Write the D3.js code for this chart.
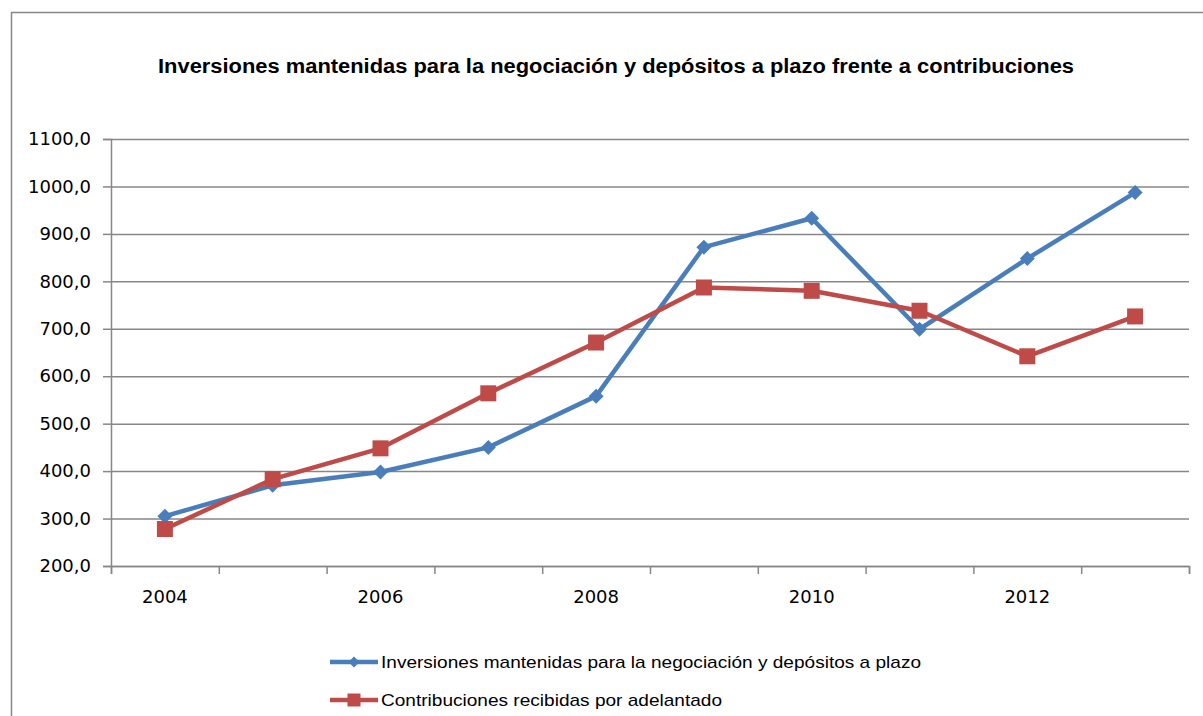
<!DOCTYPE html>
<html>
<head>
<meta charset="utf-8">
<script src="https://cdn.jsdelivr.net/npm/d3@7"></script>
<style>
	body { margin: 0; background: #fff; }
	svg { display: block; font-family: "DejaVu Sans", sans-serif; }
</style>
</head>
<body>
<svg width="1203" height="716"></svg>
<script>
const years = [2004, 2005, 2006, 2007, 2008, 2009, 2010, 2011, 2012, 2013];
const labelYears = [2004, 2006, 2008, 2010, 2012];
const inversiones = [305, 370, 398, 450, 558, 872, 933, 699, 848, 987];
const contribuciones = [278, 383, 448, 564, 671, 787, 780, 738, 642, 726];
const yTicks = [200, 300, 400, 500, 600, 700, 800, 900, 1000, 1100];

const titleText = "Inversiones mantenidas para la negociación y depósitos a plazo frente a contribuciones";
const seriesNames = [
	"Inversiones mantenidas para la negociación y depósitos a plazo",
	"Contribuciones recibidas por adelantado"
];

const svg = d3.select("svg");
const plot = { left: 111, right: 1189, top: 139, bottom: 566 };
const grey = "#878787";
const blue = "#4a7ebb";
const red = "#be4b48";

// chart frame (cut off on the right and bottom)
svg.append("rect")
	.attr("x", 11.5).attr("y", 12.5)
	.attr("width", 1300).attr("height", 800)
	.attr("fill", "none")
	.attr("stroke", grey)
	.attr("stroke-width", 1.5);

svg.append("text")
	.attr("x", 158).attr("y", 73)
	.attr("textLength", 916)
	.attr("lengthAdjust", "spacingAndGlyphs")
	.style("font-family", "'Liberation Sans', Arial, sans-serif")
	.style("font-weight", "bold")
	.style("font-size", "20px")
	.text(titleText);

const x = d3.scaleBand().domain(years).range([plot.left, plot.right]).padding(0);
const xEdge = d3.scaleLinear().domain([0, years.length]).range([plot.left, plot.right]);
const y = d3.scaleLinear().domain([200, 1100]).range([plot.bottom, plot.top]);

// gridlines
svg.append("g")
	.attr("transform", `translate(${plot.left},0)`)
	.call(d3.axisLeft(y).tickValues(yTicks).tickSize(-(plot.right - plot.left)).tickFormat(""))
	.call(g => g.select(".domain").remove())
	.call(g => g.selectAll("line").attr("stroke", grey).attr("stroke-width", 1.5));

// y axis
svg.append("g")
	.attr("transform", `translate(${plot.left},0)`)
	.call(d3.axisLeft(y).tickValues(yTicks).tickSize(8).tickPadding(12)
		.tickFormat(d => d3.format(".1f")(d).replace(".", ",")))
	.call(g => g.select(".domain").attr("stroke", grey).attr("stroke-width", 1.5))
	.call(g => g.selectAll("line").attr("stroke", grey).attr("stroke-width", 1.5))
	.call(g => g.selectAll("text").attr("fill", "#000").style("font-size", "18px")
		.style("font-family", "'DejaVu Sans', sans-serif"));

// x axis tick marks between categories
svg.append("g")
	.attr("transform", `translate(0,${plot.bottom})`)
	.call(d3.axisBottom(xEdge).ticks(years.length).tickSize(8).tickFormat(""))
	.call(g => g.select(".domain").attr("stroke", grey).attr("stroke-width", 1.5))
	.call(g => g.selectAll("line").attr("stroke", grey).attr("stroke-width", 1.5));

// x axis labels at category centres
svg.append("g")
	.attr("transform", `translate(0,${plot.bottom})`)
	.call(d3.axisBottom(x).tickValues(labelYears).tickSize(0).tickPadding(24))
	.call(g => g.select(".domain").remove())
	.call(g => g.selectAll("text").attr("fill", "#000").style("font-size", "18px")
		.style("font-family", "'DejaVu Sans', sans-serif"));

const cx = d => x(d) + x.bandwidth() / 2;

const diamond = s => `M0,${-s}L${s},0L0,${s}L${-s},0Z`;
const square = s => `M${-s},${-s}H${s}V${s}H${-s}Z`;

const series = [
	{ name: seriesNames[0], values: inversiones, color: blue, marker: diamond(7.5), legendMarker: diamond(5.5) },
	{ name: seriesNames[1], values: contribuciones, color: red, marker: square(8), legendMarker: square(6.5) }
];

const line = d3.line()
	.x((d, i) => cx(years[i]))
	.y(d => y(d));

series.forEach(s => {
	svg.append("path")
		.datum(s.values)
		.attr("fill", "none")
		.attr("stroke", s.color)
		.attr("stroke-width", 4.5)
		.attr("stroke-linejoin", "round")
		.attr("d", line);

	svg.append("g").selectAll("path")
		.data(s.values)
		.join("path")
		.attr("transform", (d, i) => `translate(${cx(years[i])},${y(d)})`)
		.attr("d", s.marker)
		.attr("fill", s.color);
});

// legend
const legendLengths = [540, 341];
const legend = svg.append("g");
series.forEach((s, i) => {
	const ly = 662 + i * 38;
	legend.append("line")
		.attr("x1", 330).attr("x2", 378)
		.attr("y1", ly).attr("y2", ly)
		.attr("stroke", s.color)
		.attr("stroke-width", 4.5);
	legend.append("path")
		.attr("transform", `translate(354,${ly})`)
		.attr("d", s.legendMarker)
		.attr("fill", s.color);
	legend.append("text")
		.attr("x", 381).attr("y", ly)
		.attr("dy", "0.35em")
		.attr("textLength", legendLengths[i])
		.attr("lengthAdjust", "spacingAndGlyphs")
		.style("font-size", "17px")
		.style("font-family", "'Liberation Sans', Arial, sans-serif")
		.text(s.name);
});
</script>
</body>
</html>
